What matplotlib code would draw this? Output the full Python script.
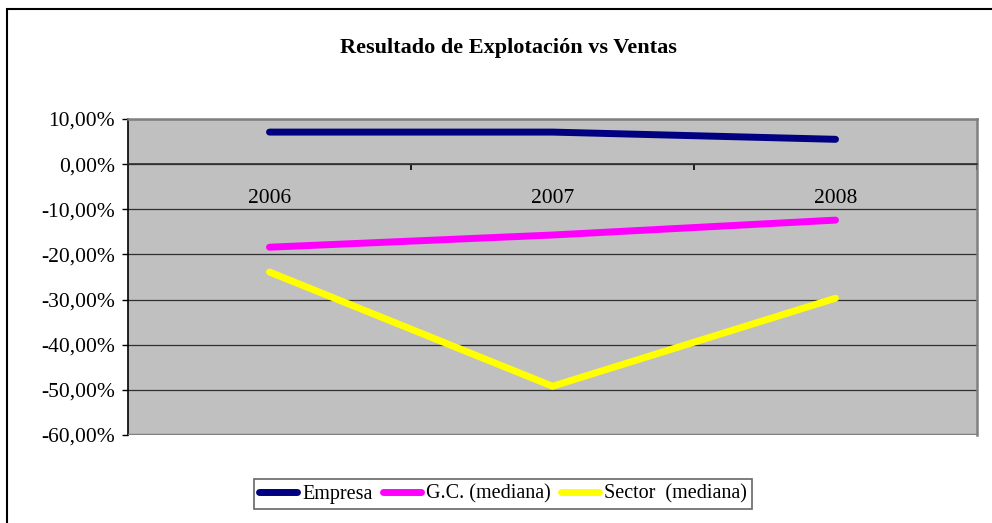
import matplotlib.pyplot as plt
from matplotlib.ticker import FuncFormatter, FixedLocator
from matplotlib.patches import Rectangle

plt.rcParams['font.family'] = ['Liberation Serif', 'DejaVu Serif']

years = ['2006', '2007', '2008']
empresa = [0.071, 0.071, 0.055]
gc_mediana = [-0.184, -0.157, -0.124]
sector_mediana = [-0.239, -0.492, -0.297]

series_labels = ['Empresa', 'G.C. (mediana)', 'Sector  (mediana)']
series_colors = ['#000080', '#FF00FF', '#FFFF00']

fig = plt.figure(figsize=(9.92, 5.23), dpi=100)
ax = fig.add_axes([128 / 992, 88 / 523, 849 / 992, 316 / 523])
ax.set_facecolor('#C0C0C0')

x = range(len(years))
for vals, lab, col in zip([empresa, gc_mediana, sector_mediana], series_labels, series_colors):
    ax.plot(x, vals, color=col, linewidth=5, solid_capstyle='round',
            solid_joinstyle='miter', label=lab, zorder=3)

ax.set_xlim(-0.5, 2.5)
ax.set_ylim(-0.6, 0.1)

# y axis
ax.set_yticks([-0.6, -0.5, -0.4, -0.3, -0.2, -0.1, 0.0, 0.1])
ax.yaxis.set_major_formatter(FuncFormatter(lambda v, p: f'{v * 100:.2f}%'.replace('.', ',')))
ax.tick_params(axis='y', direction='out', length=4.5, width=1, color='black',
               labelsize=15.5, pad=5)
ax.yaxis.grid(True, color='#303030', linewidth=0.9)
ax.set_axisbelow(True)

# category axis crossing at 0
ax.spines['bottom'].set_position(('data', 0))
ax.spines['bottom'].set_color('#303030')
ax.spines['bottom'].set_linewidth(1.2)
ax.xaxis.set_major_locator(FixedLocator([0.5, 1.5, 2.5]))
ax.xaxis.set_minor_locator(FixedLocator([0, 1, 2]))
ax.xaxis.set_major_formatter(FuncFormatter(lambda v, p: ''))
ax.xaxis.set_minor_formatter(FuncFormatter(lambda v, p: years[int(round(v))]))
ax.tick_params(axis='x', which='major', direction='out', length=4.5, width=1.2, color='black')
ax.tick_params(axis='x', which='minor', length=0, labelsize=15.5, pad=18)

ax.spines['left'].set_color('black')
ax.spines['left'].set_linewidth(1.2)
for s in ['top', 'right']:
    ax.spines[s].set_color('#808080')
    ax.spines[s].set_linewidth(1.8)
ax.axhline(-0.6, color='#808080', linewidth=2.5, zorder=4)

fig.text(508 / 992, 1 - 48 / 523, 'Resultado de Explotación vs Ventas',
         ha='center', va='center', fontsize=16, fontweight='bold')

leg = fig.legend(loc='center', bbox_to_anchor=(503 / 992, 1 - 494 / 523), ncol=3,
                 fontsize=14.5, frameon=True, fancybox=False, handlelength=1.9,
                 handletextpad=0.25, columnspacing=0.5, borderpad=0.25)
leg.get_frame().set_edgecolor('#404040')
leg.get_frame().set_linewidth(1.2)
for line in leg.get_lines():
    line.set_linewidth(5)

fig.patches.append(Rectangle((7 / 992, -0.1), 1.2, 1.1 - 9 / 523, transform=fig.transFigure,
                             fill=False, edgecolor='black', linewidth=1.5))

fig.savefig('out.png', dpi=100)
